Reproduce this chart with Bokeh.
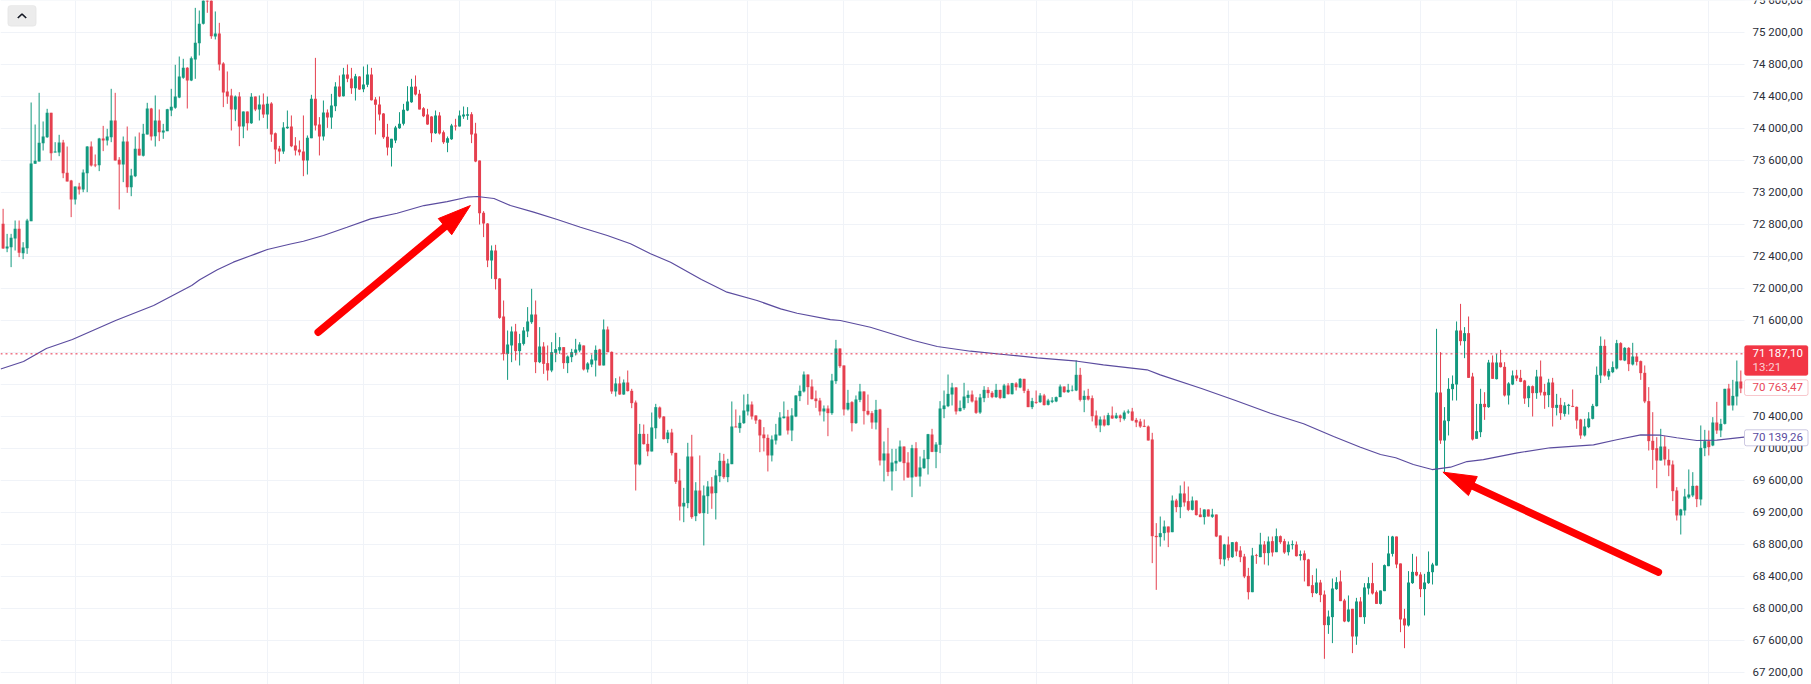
# BTC 15m style candle chart with long moving average and two red arrows

from math import hypot
from bokeh.embed import file_html
from bokeh.models import BoxAnnotation, FixedTicker, Label, Range1d
from bokeh.plotting import figure
from bokeh.resources import INLINE

# candles
opens = [
    72812,72504,72521,72629,72750,72446,72508,72846,73562,73592,73821,73896,74200,73704,73704,73829,73450,73354,73116,73279,
    73241,73446,73779,73554,73546,73879,73854,73896,74104,73612,73554,73842,73271,73408,73750,73662,73929,74254,73908,74104,
    73954,73971,74229,74262,74392,74637,74762,74604,74867,75071,75312,75700,75650,75154,75191,74817,74467,74417,74242,74404,
    74029,74217,74071,74404,74242,74304,74179,74317,73946,73754,73717,74008,74029,73792,73742,73717,73604,73883,74375,74054,
    73904,74204,74142,74283,74529,74408,74679,74629,74508,74654,74496,74550,74679,74367,74304,74192,73900,73762,73854,74008,
    74062,74229,74333,74529,74437,74258,74179,74154,73946,74167,73958,73825,73871,74042,74029,74154,74162,74183,73942,73604,
    72950,72817,72354,72479,72129,71654,71187,71292,71467,71221,71312,71467,71583,71679,71083,71279,71071,70979,71200,71229,
    71271,71071,71146,71200,71229,71292,70992,71054,71104,71242,71042,71492,71212,70717,70817,70679,70829,70725,70579,69804,
    70187,70062,69967,70258,70517,70404,70121,70204,69950,69604,69279,69321,69904,69158,69479,69196,69408,69529,69446,69658,
    69850,69646,69808,70279,70258,70321,70467,70554,70417,70362,70179,70137,69917,70104,70167,70383,70404,70229,70404,70658,
    70717,70929,70779,70629,70604,70467,70504,70446,70846,71254,71042,70492,70583,70321,70612,70717,70475,70446,70329,70492,
    69854,69942,69717,69817,69842,70029,69829,69642,70008,69654,69758,69871,70179,69962,70050,70496,70533,70679,70767,70471,
    70508,70637,70679,70604,70454,70633,70737,70700,70646,70737,70633,70792,70683,70817,70767,70875,70725,70521,70587,70583,
    70667,70550,70587,70592,70646,70779,70708,70729,70729,70925,70612,70662,70633,70417,70292,70367,70296,70417,70383,70417,
    70375,70454,70467,70362,70342,70287,70279,70117,68912,68896,68946,69029,68958,69354,69271,69442,69346,69237,69354,69179,
    69146,69242,69150,69179,68917,68617,68804,68646,68833,68729,68654,68412,68208,68671,68646,68804,68696,68846,68708,68908,
    68846,68708,68796,68804,68662,68692,68617,68296,68196,68329,68179,67796,67896,68246,68342,68104,67842,68000,67654,68092,
    67896,68254,68321,68208,68062,68221,68533,68687,68904,68567,67879,67792,68321,68462,68429,68246,68321,68458,68541,70704,
    70104,70346,70746,70804,71479,71346,71446,70904,70125,70208,70562,70521,71079,70871,71079,71025,70667,70804,70917,70887,
    70854,70633,70783,70696,70904,70712,70671,70829,70512,70550,70437,70537,70537,70525,70367,70167,70271,70375,70533,70917,
    71287,70904,70958,71004,71321,71104,71262,71054,71154,71096,70950,70596,70100,70008,69854,70029,69862,69804,69479,69167,
    69229,69392,69417,69537,69367,70008,70096,70042,70329,70229,70312,70754,70542,70654,70842,
]
closes = [
    72504,72529,72637,72750,72450,72517,72854,73566,73600,73825,73904,74200,73696,73717,73829,73446,73342,73116,73279,73241,
    73454,73779,73541,73541,73879,73854,73904,74104,73604,73554,73842,73271,73417,73750,73667,73937,74254,73904,74104,73958,
    73979,74246,74275,74404,74654,74762,74604,74883,75075,75312,75650,75590,75158,75191,74804,74454,74404,74242,74404,74029,
    74217,74071,74400,74242,74304,74179,74312,73929,73742,73717,74017,74025,73783,73729,73708,73604,73887,74375,74042,73904,
    74204,74142,74292,74529,74404,74679,74625,74508,74658,74492,74554,74679,74358,74300,74179,73896,73767,73875,74017,74062,
    74237,74342,74525,74429,74242,74158,74054,73946,74167,73942,73833,73883,74042,74029,74167,74179,74183,73929,73592,72946,
    72817,72354,72479,72121,71637,71187,71304,71467,71221,71321,71479,71592,71679,71083,71279,71062,70979,71208,71246,71271,
    71071,71154,71208,71242,71304,70992,71067,71117,71237,71042,71492,71208,70717,70817,70679,70829,70721,70571,69804,70187,
    70058,69967,70267,70521,70392,70121,70204,69946,69587,69279,69325,69904,69146,69479,69196,69417,69529,69442,69667,69850,
    69646,69817,70279,70267,70325,70479,70554,70404,70354,70167,70133,69917,70117,70179,70392,70404,70229,70417,70667,70725,
    70929,70771,70621,70596,70467,70504,70446,70854,71254,71033,70492,70575,70321,70617,70717,70471,70429,70329,70487,69854,
    69942,69712,69829,69850,70029,69821,69642,70008,69654,69767,69879,70183,69962,70054,70504,70542,70687,70767,70467,70512,
    70654,70675,70592,70450,70642,70737,70696,70646,70737,70637,70792,70683,70821,70771,70875,70725,70521,70596,70575,70667,
    70546,70604,70604,70646,70779,70708,70737,70737,70925,70612,70662,70617,70408,70292,70367,70292,70421,70379,70417,70383,
    70454,70467,70354,70329,70279,70275,70104,68908,68896,68946,69029,68954,69354,69271,69442,69329,69237,69354,69171,69146,
    69242,69154,69179,68904,68621,68804,68637,68833,68717,68646,68404,68208,68667,68662,68804,68696,68842,68704,68908,68833,
    68704,68804,68808,68658,68683,68608,68283,68196,68329,68171,67796,67904,68254,68333,68096,67842,67992,67654,68092,67896,
    68267,68321,68192,68062,68229,68546,68692,68904,68554,67867,67792,68329,68462,68417,68246,68329,68462,68554,70704,70104,
    70354,70750,70812,71479,71346,71446,70887,70117,70221,70562,70521,71079,70875,71079,71021,70667,70817,70917,70879,70837,
    70629,70783,70696,70904,70704,70667,70829,70512,70550,70446,70542,70550,70525,70354,70167,70279,70379,70537,70925,71287,
    70917,70971,71021,71321,71108,71262,71058,71154,71087,70946,70592,70096,69987,69854,70029,69867,69792,69471,69167,69242,
    69404,69429,69537,69371,70012,70096,70021,70329,70229,70312,70750,70542,70662,70842,70754,
]
highs = [
    73000,72687,72687,72854,72854,72583,72875,74329,74054,74450,74092,74250,74200,73833,73925,73862,73779,73362,73279,73325,
    73492,73783,73842,73679,73887,74037,74000,74500,74450,73646,73904,74029,73500,73904,73954,74062,74325,74262,74417,74242,
    74062,74250,74500,74800,74904,74875,74771,74904,75512,75479,75700,75800,75800,75467,75325,74833,74717,74500,74417,74458,
    74217,74217,74446,74404,74417,74442,74404,74333,73954,73787,74083,74229,74167,73896,73854,74167,73917,74425,74887,74146,
    74354,74242,74437,74583,74667,74762,74804,74762,74687,74658,74779,74804,74762,74396,74404,74196,74062,73875,74037,74208,
    74312,74533,74625,74667,74487,74271,74250,74158,74229,74208,73979,73904,74062,74125,74229,74279,74271,74208,74075,73604,
    72971,72821,72542,72550,72133,71854,71479,71529,71562,71437,71521,71771,72000,71854,71521,71333,71292,71333,71450,71396,
    71271,71167,71250,71375,71333,71292,71083,71179,71292,71250,71617,71529,71217,70883,70904,70867,70979,70750,70604,70312,
    70304,70187,70454,70562,70529,70408,70237,70250,69950,69750,69512,70075,70175,69583,69917,69542,69596,69646,69737,69950,
    69937,69875,70592,70492,70417,70679,70687,70592,70417,70371,70271,70179,70167,70312,70458,70592,70487,70508,70667,70792,
    70967,70929,70867,70729,70637,70542,70542,70937,71362,71254,71042,70737,70596,70667,70812,70717,70679,70471,70612,70500,
    70092,70262,70000,70000,70104,70029,69958,70050,70083,69904,69987,70187,70250,70083,70596,70729,70929,70825,70771,70604,
    70825,70729,70729,70646,70687,70783,70771,70721,70812,70737,70812,70821,70825,70833,70883,70875,70750,70637,70729,70696,
    70687,70625,70646,70654,70804,70779,70812,70792,71104,71012,70729,70750,70667,70479,70404,70417,70450,70529,70450,70429,
    70479,70492,70512,70387,70375,70367,70292,70200,69071,69154,69104,69029,69417,69375,69542,69592,69529,69404,69354,69262,
    69242,69242,69250,69179,68917,68812,68904,68833,68842,68783,68687,68512,68762,68687,68950,68846,68904,68904,69004,68917,
    68875,68842,68854,68842,68729,68729,68625,68421,68504,68362,68229,67979,68379,68396,68479,68125,68167,68000,68137,68146,
    68321,68396,68575,68229,68229,68554,68912,68912,68904,68567,68000,68471,68687,68654,68458,68437,68717,68575,71500,71208,
    70521,70883,70917,71592,71812,71521,71654,70950,70562,70750,70708,71112,71167,71187,71237,71083,70833,70979,70987,70987,
    70862,70792,70792,70987,71104,70812,70875,70887,70687,70637,70583,70562,70742,70529,70375,70375,70458,70562,71029,71404,
    71367,71000,71092,71362,71333,71271,71271,71325,71196,71104,71042,70771,70458,70146,70250,70158,69996,69854,69521,69250,
    69500,69742,69708,69542,70292,70237,70229,70396,70587,70375,70750,70812,70862,71104,70979,
]
lows = [
    72500,72458,72271,72479,72396,72371,72437,72846,73562,73592,73729,73887,73604,73704,73658,73383,73342,72896,73054,73179,
    73208,73208,73529,73521,73471,73721,73792,73833,73604,72992,73333,73200,73158,73396,73667,73654,73929,73854,73779,73846,
    73875,73971,74158,74250,74383,74625,74254,74596,74625,74917,75304,75450,75125,75117,74729,74271,74312,73979,74096,73783,
    73883,73979,74062,74221,74104,74137,74000,73837,73562,73592,73687,74000,73771,73667,73667,73408,73429,73883,73979,73667,
    73854,74012,74000,74221,74396,74404,74583,74437,74354,74487,74458,74521,74354,73929,74104,73875,73667,73529,73821,74000,
    74042,74221,74325,74417,74242,74146,74050,73833,73937,73929,73812,73708,73862,73979,74029,74125,74112,73821,73583,72804,
    72646,72271,72125,71992,71625,71104,70862,71083,71104,71042,71292,71396,71562,70946,71071,70937,70854,70958,71083,71187,
    71000,70946,71083,71167,71208,70979,70954,71021,70904,71042,71042,71208,70687,70654,70675,70675,70717,70508,69479,69792,
    70054,69908,69967,70125,70375,70117,70071,69917,69562,69104,69083,69258,69125,69096,69187,68792,69187,69250,69117,69583,
    69625,69583,69808,70271,70200,70312,70417,70367,70312,69958,69967,69717,69842,70054,70167,70379,70179,70096,70396,70596,
    70704,70550,70617,70512,70417,70342,70158,70425,70812,71012,70417,70479,70217,70312,70583,70304,70417,70250,70242,69792,
    69592,69658,69479,69721,69833,69604,69637,69396,69646,69529,69750,69679,69958,69758,69946,70383,70521,70542,70429,70467,
    70487,70571,70579,70437,70437,70583,70637,70633,70637,70621,70633,70679,70679,70729,70758,70696,70521,70496,70562,70575,
    70542,70542,70571,70583,70646,70700,70700,70717,70721,70592,70458,70604,70342,70258,70208,70279,70292,70375,70375,70333,
    70354,70437,70346,70271,70262,70271,70104,68571,68237,68779,68854,68771,68958,69208,69133,69279,69221,69229,69167,69146,
    69054,69154,69137,68896,68554,68533,68604,68637,68658,68583,68383,68117,68208,68562,68646,68554,68542,68654,68708,68812,
    68687,68667,68742,68654,68604,68342,68283,68146,68187,68083,67375,67687,67571,68237,68096,67833,67833,67446,67550,67896,
    67812,68179,68179,68062,68054,68221,68533,68654,68508,67708,67508,67779,68312,68408,68146,67917,68312,68304,68541,70062,
    69708,70167,70604,70604,71292,71133,70887,70104,70125,70146,70362,70512,70875,70867,71017,70654,70554,70796,70846,70833,
    70562,70521,70404,70625,70667,70500,70521,70279,70417,70362,70404,70429,70521,70250,70125,70154,70258,70367,70529,70821,
    70904,70862,70946,70992,71104,71096,70971,71042,71042,70862,70571,69979,69737,69508,69854,69792,69658,69346,69104,68929,
    69167,69375,69396,69271,69292,69908,69917,70033,70187,70146,70304,70542,70479,70542,70696,
]

# moving average, read at a set of candle positions
ma_index = [-0.6,5.1,10.8,17.3,28.1,37.6,47.1,49.1,53.5,57.5,61.8,66,71.8,75,80,85.9,91.8,98.4,105.1,110.9,115.9,118.4,122.6,126.7,
            132.5,138.4,144.2,150.9,156.7,161.7,166.7,174.4,180.8,188.3,194.2,198.3,206.6,209.1,216.6,227.4,233.3,241.6,249.9,
            258.3,268.3,274.8,285.7,289,299.3,307.8,316.5,324.8,332.3,339,344,347.8,352.2,356.9,361.5,365.6,369.7,378.2,386.4,
            397.2,403,409,414,418,423,428,434.8]
ma_values = [70998,71091,71254,71366,71604,71791,72041,72113,72238,72333,72413,72491,72560,72595,72666,72770,72875,72945,73041,73091,73145,73154,73129,73041,
             72958,72866,72770,72666,72563,72438,72333,72116,71958,71854,71750,71695,71616,71604,71520,71354,71279,71220,71179,
             71138,71095,71050,70988,70925,70754,70604,70445,70313,70154,70020,69929,69888,69804,69741,69770,69841,69866,69950,70013,
             70050,70113,70175,70170,70138,70104,70108,70145]

price_ticks = [67200 + 400 * k for k in range(22)]
tick_labels = ["%d %03d,00" % (t // 1000, t % 1000) for t in price_ticks]
time_grid = [18 + 24 * k for k in range(18)]

last_price = 71187.10
countdown = "13:21"
ma_fast_price = 70763.47
ma_slow_price = 70139.26

# arrows: [tail index, tail price, tip index, tip price]
arrow_one = [78.7, 71458, 116.7, 73041]
arrow_two = [413.4, 68458, 359.6, 69708]

GREEN = "#12997f"
RED = "#e5404f"
PURPLE = "#5b4c9f"
GRID = "#f0f3f8"
TEXT = "#2a2e39"
FONT = "Roboto"

PX_X = 4.004   # pixels per candle
PX_Y = 0.08    # pixels per price unit


def px_i(x):
    return (x - 2.6) / PX_X


def px_p(y):
    return 75604 - y / PX_Y


p = figure(width=1811, height=684, output_backend="svg", toolbar_location=None,
           x_range=Range1d(px_i(0), px_i(1811)), y_range=Range1d(px_p(684), px_p(0)),
           min_border=0)
p.outline_line_color = None
p.xaxis.visible = False
p.yaxis.visible = False
p.xgrid.ticker = FixedTicker(ticks=time_grid)
p.ygrid.ticker = FixedTicker(ticks=price_ticks)
p.xgrid.grid_line_color = GRID
p.ygrid.grid_line_color = GRID

# blank price scale strip over the grid
p.add_layout(BoxAnnotation(left=px_i(1744), right=px_i(1811), fill_color="#ffffff", fill_alpha=1,
                           line_color=None, level="underlay"))
p.text(x=[px_i(1752)] * len(price_ticks), y=price_ticks, text=tick_labels, text_color=TEXT,
       text_font={"value": FONT}, text_font_size="11.5px", text_baseline="middle", y_offset=-1)

# candles
xs = list(range(len(opens)))
colors = [GREEN if c >= o else RED for o, c in zip(opens, closes)]
tops = [max(o, c) for o, c in zip(opens, closes)]
bottoms = [min(o, c) for o, c in zip(opens, closes)]
p.segment(xs, highs, xs, lows, line_color=colors, line_width=1)
p.vbar(x=xs, width=0.74, top=tops, bottom=bottoms, fill_color=colors, line_color=None)

# moving average and last price
p.line(ma_index, ma_values, line_color=PURPLE, line_width=1.2)
p.line([px_i(0), px_i(1744)], [last_price, last_price], line_color="#e8304a", line_width=1, line_dash=[2, 3])


# red arrows
def draw_arrow(a):
    dx = (a[2] - a[0]) * PX_X
    dy = (a[3] - a[1]) * PX_Y
    n = hypot(dx, dy)
    ux, uy = dx / n, dy / n
    neck_i = a[2] - ux * 26 / PX_X
    neck_p = a[3] - uy * 26 / PX_Y
    base_i = a[2] - ux * 33 / PX_X
    base_p = a[3] - uy * 33 / PX_Y
    off_i = -uy * 10.5 / PX_X
    off_p = ux * 10.5 / PX_Y
    p.line([a[0], neck_i], [a[1], neck_p], line_color="#ff0000", line_width=7.5, line_cap="round")
    p.patch([a[2], base_i + off_i, base_i - off_i], [a[3], base_p + off_p, base_p - off_p],
            fill_color="#ff0000", line_color="#ff0000", line_width=1)


draw_arrow(arrow_one)
draw_arrow(arrow_two)


# price tags on the axis
def tag(top_y, bottom_y, fill, border):
    p.add_layout(BoxAnnotation(left=px_i(1744), right=px_i(1807.5), top=px_p(top_y), bottom=px_p(bottom_y),
                               fill_color=fill, fill_alpha=1, line_color=border, line_width=1,
                               border_radius=2))


def tag_text(text, price, color):
    p.add_layout(Label(x=px_i(1752), y=price, text=text, text_color=color, text_font=FONT,
                       text_font_size="11.5px", text_baseline="middle", y_offset=1))


tag(345, 375, "#f23645", "#f23645")
tag_text("71 187,10", last_price, "#ffffff")
tag_text(countdown, px_p(367), "#fbd0d5")
tag(379.3, 395, "#ffffff", "#e8495a")
tag_text("70 763,47", ma_fast_price, "#e8495a")
tag(429.3, 445.3, "#ffffff", PURPLE)
tag_text("70 139,26", ma_slow_price, PURPLE)

# collapse button in the top corner
p.add_layout(BoxAnnotation(left=px_i(7.3), right=px_i(35.7), top=px_p(5), bottom=px_p(25.7),
                           fill_color="#ececec", fill_alpha=1, line_color="#dcdcdc", border_radius=3,
                           level="underlay"))
p.line([px_i(17.3), px_i(21.5), px_i(25.7)], [px_p(17.5), px_p(13.5), px_p(17.5)],
       line_color="#131722", line_width=1.7)

open("out.html", "w").write(file_html(p, INLINE))
